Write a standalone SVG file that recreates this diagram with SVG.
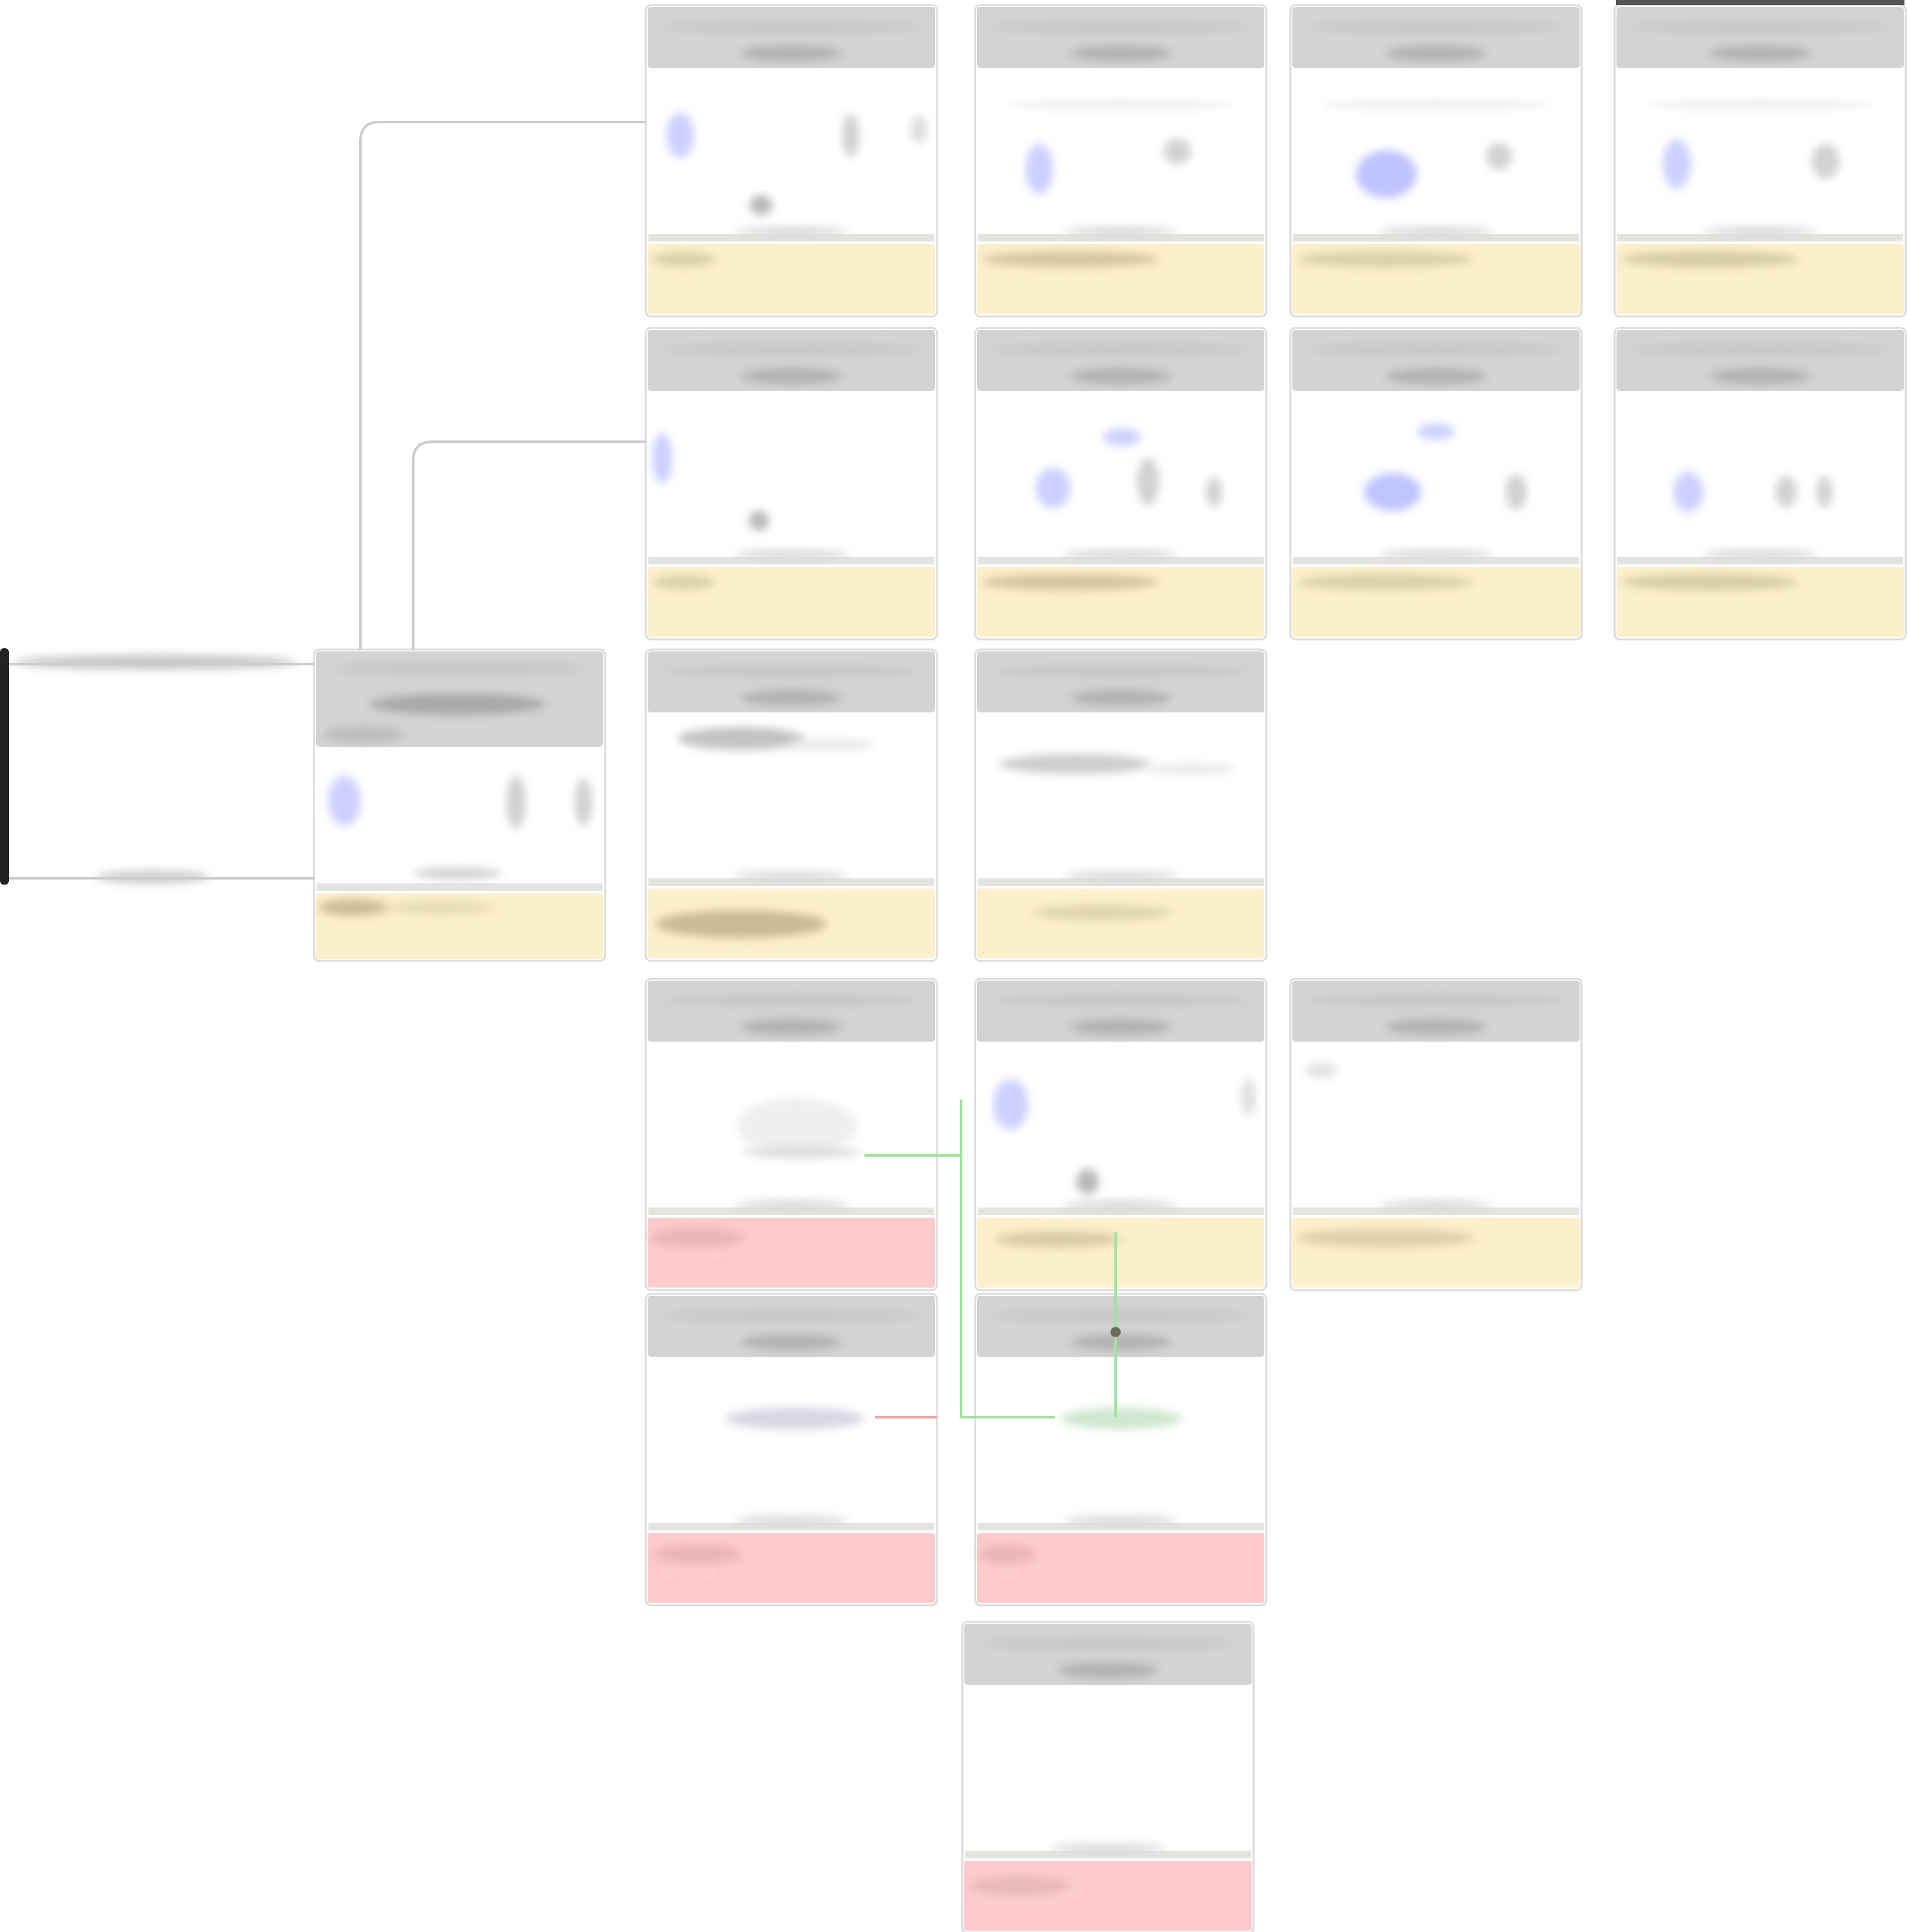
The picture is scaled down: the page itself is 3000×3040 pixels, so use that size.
<svg xmlns="http://www.w3.org/2000/svg" xmlns:xlink="http://www.w3.org/1999/xlink" width="3000" height="3040" viewBox="0 0 3000 3040">
<style>
.card{fill:#ffffff;stroke:#dcdcdc;stroke-width:3}
.hdr{fill:#d3d3d3}
.sep{stroke:#e3e3df;stroke-width:12}
.ftY{fill:#fcefcb}
.ftP{fill:#fdcbcb}
.m{filter:url(#soft)}
.edge{fill:none;stroke:#cccccc;stroke-width:4}
.green{fill:none;stroke:#9ee49e;stroke-width:4}
.red{fill:none;stroke:#f3a3a3;stroke-width:4}
.blue{fill:#cdd0ff}
.gr{fill:#d2d2d2}
</style>
<defs>
<filter id="soft" x="-60%" y="-200%" width="220%" height="500%"><feGaussianBlur stdDeviation="7"/></filter>
<g id="frame">
<rect class="card" x="0" y="0" width="458" height="490" rx="8"/>
<rect class="hdr" x="3" y="3" width="452" height="96" rx="5"/>
<ellipse class="m" cx="229" cy="34" rx="200" ry="9" fill="#c6c6c6"/>
<ellipse class="m" cx="229" cy="76" rx="80" ry="13" fill="#b2b2b2"/>
<line class="sep" x1="4" y1="366" x2="454" y2="366"/>
<ellipse class="m" cx="229" cy="356" rx="90" ry="7" fill="#d6d6d6"/>
</g>
<g id="cardY">
<use xlink:href="#frame"/>
<rect class="ftY" x="3" y="376" width="452" height="110" rx="4"/>
</g>
<g id="cardP">
<use xlink:href="#frame"/>
<rect class="ftP" x="3" y="376" width="452" height="110" rx="4"/>
</g>
</defs>
<rect x="0" y="0" width="3000" height="3040" fill="#ffffff"/>

<g id="source">
<rect x="0" y="1020" width="14" height="372" rx="6" fill="#222222"/>
<ellipse class="m" cx="245" cy="1042" rx="225" ry="12" fill="#c8c8c8"/>
<ellipse class="m" cx="240" cy="1380" rx="90" ry="11" fill="#cfcfcf"/>
</g>

<g id="node-L" transform="translate(494,1022)">
<rect class="card" x="0" y="0" width="458" height="490" rx="8"/>
<rect class="hdr" x="3" y="3" width="452" height="150" rx="5"/>
<ellipse class="m" cx="229" cy="30" rx="200" ry="10" fill="#c6c6c6"/>
<ellipse class="m" cx="226" cy="86" rx="138" ry="17" fill="#a9a9a9"/>
<ellipse class="m" cx="78" cy="134" rx="65" ry="13" fill="#bcbcbc"/>
<ellipse class="m blue" cx="48" cy="238" rx="26" ry="40"/>
<ellipse class="m gr" cx="318" cy="240" rx="16" ry="42"/>
<ellipse class="m gr" cx="424" cy="240" rx="14" ry="38"/>
<line class="sep" x1="4" y1="374" x2="454" y2="374"/>
<ellipse class="m" cx="226" cy="352" rx="70" ry="10" fill="#d3d3d3"/>
<rect class="ftY" x="3" y="384" width="452" height="103" rx="4"/>
<ellipse class="m" cx="62" cy="406" rx="55" ry="13" fill="#cbbd96"/>
<ellipse class="m" cx="200" cy="406" rx="85" ry="10" fill="#e6d9b5"/>
</g>

<g id="node-c1A" transform="translate(1016,8)">
<use xlink:href="#cardY"/>
<ellipse class="m blue" cx="54" cy="205" rx="22" ry="36"/>
<ellipse class="m gr" cx="322" cy="205" rx="14" ry="34"/>
<ellipse class="m" cx="430" cy="196" rx="14" ry="22" fill="#dedede"/>
<ellipse class="m" cx="181" cy="315" rx="18" ry="16" fill="#b9b9b9"/>
<ellipse class="m" cx="60" cy="400" rx="50" ry="12" fill="#dccfab"/>
</g>
<g id="node-c2A" transform="translate(1534,8)">
<use xlink:href="#cardY"/>
<ellipse class="m" cx="229" cy="157" rx="180" ry="7" fill="#ececec"/>
<ellipse class="m blue" cx="101" cy="258" rx="22" ry="40"/>
<ellipse class="m gr" cx="318" cy="230" rx="22" ry="20"/>
<ellipse class="m" cx="150" cy="400" rx="140" ry="13" fill="#d5c7a3"/>
</g>
<g id="node-c3A" transform="translate(2030,8)">
<use xlink:href="#cardY"/>
<ellipse class="m" cx="229" cy="157" rx="180" ry="7" fill="#ececec"/>
<ellipse class="m" cx="151" cy="266" rx="48" ry="38" fill="#bfc3ff"/>
<ellipse class="m gr" cx="328" cy="238" rx="20" ry="22"/>
<ellipse class="m" cx="150" cy="400" rx="140" ry="13" fill="#dccfab"/>
</g>
<g id="node-c4A" transform="translate(2540,8)">
<use xlink:href="#cardY"/>
<line x1="2" y1="-4" x2="456" y2="-4" stroke="#555555" stroke-width="8"/>
<ellipse class="m" cx="229" cy="157" rx="180" ry="7" fill="#ececec"/>
<ellipse class="m blue" cx="98" cy="250" rx="22" ry="40"/>
<ellipse class="m gr" cx="332" cy="246" rx="22" ry="28"/>
<ellipse class="m" cx="150" cy="400" rx="140" ry="13" fill="#d8cba7"/>
</g>

<g id="node-c1B" transform="translate(1016,516)">
<use xlink:href="#cardY"/>
<ellipse class="m blue" cx="26" cy="205" rx="16" ry="40"/>
<ellipse class="m" cx="178" cy="303" rx="16" ry="16" fill="#b9b9b9"/>
<ellipse class="m" cx="60" cy="400" rx="50" ry="12" fill="#dccfab"/>
</g>
<g id="node-c2B" transform="translate(1534,516)">
<use xlink:href="#cardY"/>
<ellipse class="m blue" cx="231" cy="172" rx="30" ry="14"/>
<ellipse class="m blue" cx="123" cy="252" rx="28" ry="32"/>
<ellipse class="m gr" cx="272" cy="242" rx="18" ry="38"/>
<ellipse class="m gr" cx="376" cy="258" rx="13" ry="24"/>
<ellipse class="m" cx="150" cy="400" rx="140" ry="13" fill="#d3c5a0"/>
</g>
<g id="node-c3B" transform="translate(2030,516)">
<use xlink:href="#cardY"/>
<ellipse class="m blue" cx="229" cy="163" rx="30" ry="13"/>
<ellipse class="m" cx="161" cy="258" rx="45" ry="30" fill="#c0c4ff"/>
<ellipse class="m gr" cx="355" cy="258" rx="17" ry="28"/>
<ellipse class="m" cx="150" cy="400" rx="140" ry="13" fill="#dccfab"/>
</g>
<g id="node-c4B" transform="translate(2540,516)">
<use xlink:href="#cardY"/>
<ellipse class="m blue" cx="116" cy="258" rx="24" ry="32"/>
<ellipse class="m gr" cx="270" cy="258" rx="17" ry="25"/>
<ellipse class="m gr" cx="330" cy="258" rx="13" ry="25"/>
<ellipse class="m" cx="150" cy="400" rx="140" ry="13" fill="#d8cba7"/>
</g>

<g id="node-c1C" transform="translate(1016,1022)">
<use xlink:href="#cardY"/>
<ellipse class="m" cx="150" cy="140" rx="100" ry="18" fill="#c2c2c2"/>
<ellipse class="m" cx="290" cy="150" rx="70" ry="8" fill="#e6e6e6"/>
<ellipse class="m" cx="150" cy="432" rx="135" ry="22" fill="#c9bb94"/>
</g>
<g id="node-c2C" transform="translate(1534,1022)">
<use xlink:href="#cardY"/>
<ellipse class="m" cx="158" cy="180" rx="120" ry="16" fill="#cecece"/>
<ellipse class="m" cx="340" cy="188" rx="70" ry="8" fill="#e8e8e8"/>
<ellipse class="m" cx="200" cy="414" rx="110" ry="12" fill="#e0d3b0"/>
</g>

<g id="node-c1D" transform="translate(1016,1540)">
<use xlink:href="#cardP"/>
<ellipse class="m" cx="238" cy="232" rx="95" ry="45" fill="#efefef"/>
<ellipse class="m" cx="245" cy="273" rx="95" ry="9" fill="#dcdcdc"/>
<ellipse class="m" cx="80" cy="407" rx="75" ry="15" fill="#e9b5b5"/>
</g>
<g id="node-c2D" transform="translate(1534,1540)">
<use xlink:href="#cardY"/>
<ellipse class="m blue" cx="56" cy="198" rx="28" ry="40"/>
<ellipse class="m" cx="430" cy="186" rx="12" ry="30" fill="#e0e0e0"/>
<ellipse class="m" cx="177" cy="319" rx="18" ry="20" fill="#b9b9b9"/>
<ellipse class="m" cx="130" cy="410" rx="100" ry="13" fill="#d8cca6"/>
</g>
<g id="node-c3D" transform="translate(2030,1540)">
<use xlink:href="#cardY"/>
<ellipse class="m" cx="48" cy="144" rx="25" ry="12" fill="#e2e2e2"/>
<ellipse class="m" cx="150" cy="408" rx="140" ry="15" fill="#ddd0aa"/>
</g>

<g id="node-c1E" transform="translate(1016,2036)">
<use xlink:href="#cardP"/>
<ellipse class="m" cx="234" cy="196" rx="110" ry="18" fill="#d8d8e4"/>
<ellipse class="m" cx="80" cy="410" rx="70" ry="15" fill="#e9b5b5"/>
</g>
<g id="node-c2E" transform="translate(1534,2036)">
<use xlink:href="#cardP"/>
<ellipse class="m" cx="230" cy="196" rx="95" ry="17" fill="#cfe6cf"/>
<ellipse class="m" cx="50" cy="410" rx="45" ry="15" fill="#e9b5b5"/>
</g>
<g id="node-c2F" transform="translate(1514,2552)">
<use xlink:href="#cardP"/>
<ellipse class="m" cx="90" cy="415" rx="80" ry="15" fill="#e8b8b8"/>
</g>

<g id="connectors">
<path class="edge" d="M567 1022 V222 Q567 192 597 192 H1016"/>
<path class="edge" d="M650 1022 V725 Q650 695 680 695 H1016"/>
<path class="edge" d="M14 1045 H494"/>
<path class="edge" d="M14 1382 H494"/>
<path class="green" d="M1360 1818 H1512 V2230 H1660"/>
<path class="green" d="M1512 1730 V1818"/>
<path class="green" d="M1755 1939 V2230"/>
<path class="red" d="M1377 2230 H1474"/>
<circle cx="1755" cy="2096" r="8" fill="#6e6a55"/>
</g>
</svg>
